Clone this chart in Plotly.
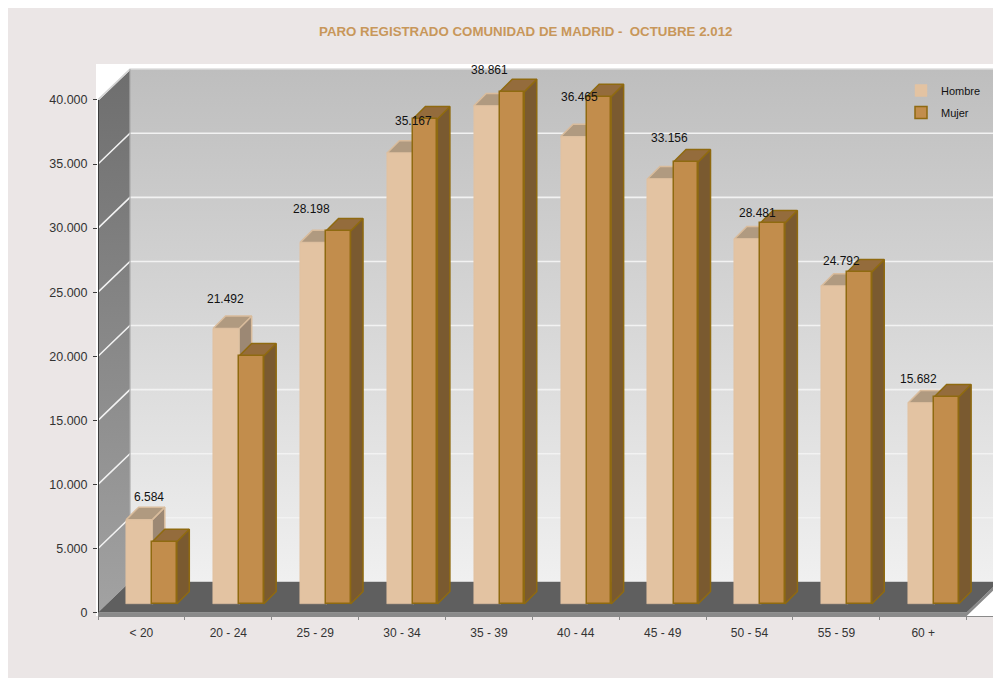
import plotly.graph_objects as go

# ---- data ----
categories = ["< 20", "20 - 24", "25 - 29", "30 - 34", "35 - 39", "40 - 44", "45 - 49", "50 - 54", "55 - 59", "60 +"]
hombre = [6584, 21492, 28198, 35167, 38861, 36465, 33156, 28481, 24792, 15682]
mujer = [4860, 19350, 29100, 37840, 39970, 39580, 34490, 29730, 25900, 16150]
hombre_labels = ["6.584", "21.492", "28.198", "35.167", "38.861", "36.465", "33.156", "28.481", "24.792", "15.682"]
y_ticks = [0, 5000, 10000, 15000, 20000, 25000, 30000, 35000, 40000]
y_tick_labels = ["0", "5.000", "10.000", "15.000", "20.000", "25.000", "30.000", "35.000", "40.000"]

# ---- hand-placed data label nudges (pixels) ----
label_dx = [10, -1, -2, 14, 3, 6, 9, 10, 7, -3]
label_dy = [23, 30, 34, 32, 36, 40, 41, 26, 25, 24]

# ---- style / projection constants ----
FONT = "Liberation Sans Narrow, Arial Narrow, Liberation Sans, Arial"
PAGE = "#EBE6E6"
TXT = "#333333"
X_RANGE = [0, 10.303]
Y_RANGE = [-265, 42805]
WALL_DX, WALL_DY = 0.368, 2400        # depth of the chart box
BAR_DX, BAR_DY = 0.144, 975           # depth of each bar
BAR_BASE = 670
LIP = -265
H_OFF, H_W = 0.325, 0.30
M_OFF, M_W = 0.625, 0.282

fig = go.Figure()


def poly(xs, ys, color, axes=("x", "y"), line=None, gradient=None):
    kw = dict(fillgradient=gradient) if gradient else dict(fillcolor=color)
    fig.add_trace(go.Scatter(
        x=xs + xs[:1], y=ys + ys[:1], mode="lines", fill="toself",
        line=dict(color=line or "rgba(0,0,0,0)", width=1.5 if line else 0),
        xaxis=axes[0], yaxis=axes[1], hoverinfo="skip", showlegend=False, **kw))


def seg(xs, ys, color, width):
    fig.add_trace(go.Scatter(x=xs, y=ys, mode="lines", line=dict(color=color, width=width),
                             hoverinfo="skip", showlegend=False))


top = y_ticks[-1]
xmax = len(categories)
# back wall
poly([WALL_DX, xmax + WALL_DX, xmax + WALL_DX, WALL_DX],
     [WALL_DY, WALL_DY, top + WALL_DY, top + WALL_DY], "#dddddd",
     gradient=dict(type="vertical", colorscale=[[0, "#F0F0F0"], [1, "#BEBEBE"]]))
# left wall
poly([0, WALL_DX, WALL_DX, 0], [0, WALL_DY, top + WALL_DY, top], "#888888",
     gradient=dict(type="vertical", colorscale=[[0, "#A2A2A2"], [1, "#6E6E6E"]]))
# floor lip
poly([0, xmax, xmax + WALL_DX, xmax + WALL_DX, xmax, 0],
     [LIP, LIP, WALL_DY + LIP, WALL_DY, 0, 0], "#8A8A8A")
# floor
poly([0, xmax, xmax + WALL_DX, WALL_DX], [0, 0, WALL_DY, WALL_DY], "#5F5F5F")
# grid lines on the walls
for v in y_ticks[1:]:
    seg([0, WALL_DX, xmax + WALL_DX], [v, v + WALL_DY, v + WALL_DY], "#F2F2F2", 1.6)
# wall edges
seg([0, WALL_DX, xmax + WALL_DX], [top, top + WALL_DY, top + WALL_DY], "#D4D4D4", 1.6)
seg([WALL_DX, WALL_DX], [WALL_DY, top + WALL_DY], "#A8A8A8", 1.2)
seg([0, 0], [0, top], "#3C3C3C", 2)

# ---- depth faces of the bars, back to front ----
sets = [(hombre, H_OFF, H_W, "#B09A80", "#9C8874", "#D9BC9C"),
        (mujer, M_OFF, M_W, "#946C3C", "#7A5A30", "#8F6A10")]
for vals, off, w, top_c, side_c, edge in sets:
    for k, v in enumerate(vals):
        x0, x1 = k + off, k + off + w
        poly([x1, x1 + BAR_DX, x1 + BAR_DX, x1],
             [BAR_BASE, BAR_BASE + BAR_DY, BAR_BASE + v + BAR_DY, BAR_BASE + v],
             side_c, axes=("x2", "y2"), line=edge)
        poly([x0, x1, x1 + BAR_DX, x0 + BAR_DX],
             [BAR_BASE + v, BAR_BASE + v, BAR_BASE + v + BAR_DY, BAR_BASE + v + BAR_DY],
             top_c, axes=("x2", "y2"), line=edge)

# ---- front faces ----
xs = list(range(len(categories)))
fig.add_trace(go.Bar(x=[k + H_OFF + H_W / 2 for k in xs], y=hombre, base=BAR_BASE, width=H_W, name="Hombre",
                     marker=dict(color="#E3C3A2", line=dict(color="#E3C3A2", width=0.5)),
                     customdata=categories, hovertemplate="%{customdata}: %{y}<extra>Hombre</extra>",
                     xaxis="x3", yaxis="y3", legendgroup="h"))
fig.add_trace(go.Bar(x=[k + M_OFF + M_W / 2 for k in xs], y=mujer, base=BAR_BASE, width=M_W, name="Mujer",
                     marker=dict(color="#C28D4C", line=dict(color="#8F6A10", width=1.5)),
                     customdata=categories, hovertemplate="%{customdata}: %{y}<extra>Mujer</extra>",
                     xaxis="x3", yaxis="y3", legendgroup="m"))

annotations = [
    dict(x=k + H_OFF + H_W / 2, y=v + BAR_BASE, xref="x", yref="y", text=t, showarrow=False,
         xshift=label_dx[k], yshift=label_dy[k], font=dict(family=FONT, size=12, color="#111111"))
    for k, (v, t) in enumerate(zip(hombre, hombre_labels))
]
annotations.append(dict(xref="paper", yref="paper", x=(525 - 98) / 895, y=1 + (64 - 31) / 552, yanchor="middle", xanchor="center",
                        text="<b>PARO REGISTRADO COMUNIDAD DE MADRID -  OCTUBRE 2.012</b>", showarrow=False,
                        font=dict(family=FONT, size=13.3, color="#C8975A")))

hidden = dict(range=X_RANGE, visible=False, fixedrange=True)
hidden_y = dict(range=Y_RANGE, visible=False, fixedrange=True)
fig.update_layout(
    width=985, height=670, autosize=False,
    margin=dict(l=90, r=0, t=56, b=62),
    paper_bgcolor=PAGE, plot_bgcolor="#FFFFFF",
    barmode="overlay", bargap=0,
    font=dict(family=FONT, size=13, color=TXT),
    xaxis=dict(range=X_RANGE, tickvals=[k + 0.5 for k in xs], ticktext=categories, ticks="", showgrid=False,
               zeroline=False, showline=True, linecolor="#8A8A8A", linewidth=1, tickfont=dict(size=12, color=TXT),
               ticklabelstandoff=6,
               minor=dict(tickvals=list(range(len(categories) + 1)), ticks="outside", ticklen=3, tickcolor="#8A8A8A",
                          showgrid=False),
               fixedrange=True),
    yaxis=dict(range=Y_RANGE, tickvals=y_ticks, ticktext=y_tick_labels, ticks="outside", ticklen=4,
               tickcolor="#3C3C3C", showgrid=False, zeroline=False, showline=False, ticklabelstandoff=3,
               tickfont=dict(size=12.5, color=TXT), fixedrange=True),
    xaxis2=dict(overlaying="x", anchor="y2", **hidden),
    yaxis2=dict(overlaying="y", anchor="x2", **hidden_y),
    xaxis3=dict(overlaying="x", anchor="y3", **hidden),
    yaxis3=dict(overlaying="y", anchor="x3", **hidden_y),
    legend=dict(x=(901 - 98) / 895, y=1 - (76 - 64) / 552, xanchor="left", yanchor="top", bgcolor="rgba(0,0,0,0)",
                tracegroupgap=3, font=dict(size=11, color="#111111"), itemclick=False, itemdoubleclick=False),
    shapes=[dict(type="rect", xref="paper", yref="paper", x0=-2 / 895, x1=0, y0=0, y1=1, fillcolor="#FFFFFF",
                 line=dict(width=0), layer="below")],
    annotations=annotations,
)
fig.write_html("out.html", default_width="985px", default_height="670px",
               post_script="document.body.style.margin='8px 0 0 8px';document.body.style.width='985px';")
